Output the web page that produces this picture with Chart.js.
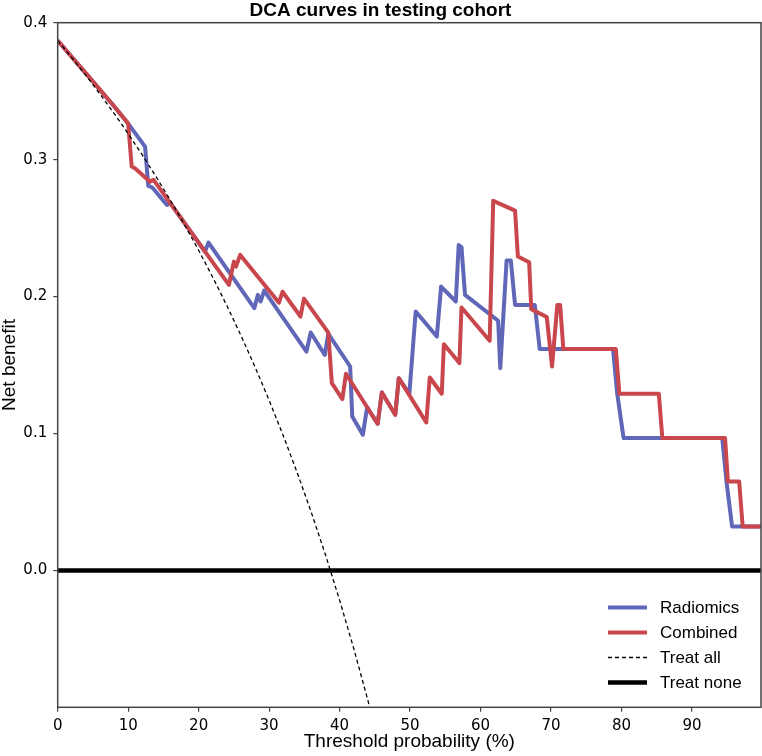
<!DOCTYPE html>
<html>
<head>
<meta charset="utf-8">
<script src="https://cdn.jsdelivr.net/npm/chart.js@4.4.0/dist/chart.umd.min.js"></script>
<style>
  html, body { margin: 0; padding: 0; background: #fff; }
  #wrap { width: 762px; height: 756px; }
</style>
</head>
<body>
<div id="wrap"><canvas id="dca" width="762" height="756"></canvas></div>
<script>
// values
const xTicks = [0, 10, 20, 30, 40, 50, 60, 70, 80, 90];
const yTicks = [0, 0.1, 0.2, 0.3, 0.4];

const radX = [0, 2, 4, 6, 8, 10, 12.4, 12.85, 13.4, 15.5, 16.0, 20.9, 21.4, 27.9, 28.4, 28.8, 29.3,
  35.3, 35.9, 37.9, 38.4, 41.5, 41.8, 43.3, 43.9, 45.4, 46.0, 47.9, 48.4, 49.9, 50.8, 53.8, 54.4,
  56.5, 56.9, 57.3, 57.8, 62.5, 62.8, 63.7, 64.3, 64.9, 67.7, 68.4, 78.8, 79.4, 80.3, 94.3, 94.9, 95.7, 99.8];
const radY = [0.387, 0.375, 0.363, 0.351, 0.339, 0.3263, 0.3095, 0.2808, 0.2798, 0.2669, 0.268, 0.2329, 0.2394,
  0.1915, 0.2012, 0.1964, 0.2044, 0.1598, 0.1737, 0.1574, 0.1728, 0.1489, 0.1124, 0.099, 0.119,
  0.1071, 0.1299, 0.1136, 0.1404, 0.129, 0.1891, 0.1708, 0.2073, 0.1964, 0.2377, 0.236, 0.2012,
  0.1823, 0.1477, 0.2263, 0.2263, 0.1939, 0.1939, 0.1616, 0.1616, 0.129, 0.0966, 0.0966, 0.065, 0.0321, 0.0321];

const combX = [0, 2, 4, 6, 8, 10, 10.5, 11.0, 13.1, 13.6, 24.3, 25.0, 25.3, 25.9, 31.4, 31.9, 34.45, 34.95,
  38.4, 38.9, 40.4, 40.9, 45.4, 46.0, 47.9, 48.4, 52.3, 52.8, 54.5, 54.8, 57.0, 57.3, 61.3, 61.8,
  64.9, 65.3, 66.9, 67.2, 69.4, 70.15, 70.9, 71.3, 71.75, 79.2, 79.7, 85.3, 85.8, 94.7, 95.1, 96.7, 97.2, 99.8];
const combY = [0.387, 0.375, 0.363, 0.351, 0.339, 0.3263, 0.2949, 0.2935, 0.2839, 0.2852, 0.2085, 0.2255,
  0.2219, 0.2304, 0.1955, 0.2035, 0.1854, 0.1985, 0.1737, 0.1368, 0.1251, 0.1436, 0.1071, 0.1299,
  0.1136, 0.1404, 0.108, 0.1409, 0.129, 0.1652, 0.1514, 0.192, 0.1677, 0.2699, 0.2628, 0.2292,
  0.2251, 0.1908, 0.185, 0.1489, 0.1939, 0.1939, 0.1616, 0.1616, 0.129, 0.129, 0.0966, 0.0966,
  0.065, 0.065, 0.0321, 0.0321];

const treatAllX = [0, 2, 4, 6, 8, 10, 12, 14, 16, 18, 20, 22, 24, 26, 28, 30, 32, 34, 36, 38, 40, 42, 44, 46];
const treatAllY = [0.387, 0.3745, 0.3615, 0.3479, 0.3337, 0.3189, 0.3034, 0.2872, 0.2702, 0.2524, 0.2338,
  0.2141, 0.1934, 0.1716, 0.1486, 0.1243, 0.0985, 0.0712, 0.0422, 0.0113, -0.0217, -0.0569, -0.0946, -0.1352];

const treatNoneX = [0, 99.8];
const treatNoneY = [0, 0];

const pts = (xs, ys) => xs.map((x, i) => ({ x: x, y: ys[i] }));

const AXIS_COLOR = '#444';

// frame round the plot and the legend in the lower right corner
const frameAndLegend = {
  id: 'frameAndLegend',
  afterDraw(chart) {
    const { ctx, chartArea: a } = chart;
    ctx.save();
    ctx.strokeStyle = AXIS_COLOR;
    ctx.lineWidth = 1.5;
    ctx.strokeRect(a.left, a.top, a.right - a.left, a.bottom - a.top);

    const x0 = 608, x1 = 647, tx = 660;
    let y = 607.5;
    ctx.font = '17px "Liberation Sans", Arial, sans-serif';
    ctx.textBaseline = 'middle';
    chart.data.datasets.forEach(ds => {
      ctx.beginPath();
      ctx.setLineDash(ds.borderDash || []);
      ctx.strokeStyle = ds.borderColor;
      ctx.lineWidth = ds.borderWidth;
      ctx.moveTo(x0, y);
      ctx.lineTo(x1, y);
      ctx.stroke();
      ctx.setLineDash([]);
      ctx.fillStyle = '#000';
      ctx.fillText(ds.label, tx, y + 1);
      y += 25;
    });
    ctx.restore();
  }
};

new Chart(document.getElementById('dca'), {
  type: 'line',
  data: {
    datasets: [
      { label: 'Radiomics', data: pts(radX, radY), borderColor: '#6067b8', borderWidth: 4, order: 4 },
      { label: 'Combined', data: pts(combX, combY), borderColor: '#c9464d', borderWidth: 4, order: 3 },
      { label: 'Treat all', data: pts(treatAllX, treatAllY), borderColor: '#000', borderWidth: 1.3,
        borderDash: [4, 3], order: 2 },
      { label: 'Treat none', data: pts(treatNoneX, treatNoneY), borderColor: '#000', borderWidth: 4.5, order: 1 }
    ]
  },
  options: {
    responsive: false,
    animation: false,
    devicePixelRatio: 1,
    layout: { padding: { left: 0, right: 1, top: 0, bottom: 0 } },
    elements: {
      point: { radius: 0 },
      line: { tension: 0, fill: false, borderJoinStyle: 'round', borderCapStyle: 'butt' }
    },
    plugins: {
      legend: { display: false },
      tooltip: { enabled: false },
      title: {
        display: true,
        text: 'DCA curves in testing cohort',
        color: '#000',
        font: { family: '"Liberation Sans", Arial, sans-serif', size: 19, weight: 'bold', lineHeight: 1.1 },
        padding: { top: 0, bottom: 1.8 }
      }
    },
    scales: {
      x: {
        type: 'linear',
        min: 0,
        max: 99.8,
        afterBuildTicks: s => { s.ticks = xTicks.map(v => ({ value: v })); },
        afterFit: s => { s.height = 48.7; },
        border: { display: false },
        grid: { drawOnChartArea: false, drawTicks: true, tickLength: 4.5, color: AXIS_COLOR, lineWidth: 1.2 },
        ticks: {
          color: '#000',
          padding: 5.5,
          maxRotation: 0,
          font: { family: '"DejaVu Sans", sans-serif', size: 15 },
          callback: v => String(v)
        },
        title: {
          display: true,
          text: 'Threshold probability (%)',
          color: '#000',
          font: { family: '"Liberation Sans", Arial, sans-serif', size: 19, lineHeight: 1.2 },
          padding: { top: 0, bottom: 3 }
        }
      },
      y: {
        type: 'linear',
        min: -0.1,
        max: 0.4,
        afterBuildTicks: s => { s.ticks = yTicks.map(v => ({ value: v })); },
        afterFit: s => { s.width = 57.7; },
        border: { display: false },
        grid: { drawOnChartArea: false, drawTicks: true, tickLength: 4.5, color: AXIS_COLOR, lineWidth: 1.2 },
        ticks: {
          color: '#000',
          padding: 6,
          font: { family: '"DejaVu Sans", sans-serif', size: 15 },
          callback: v => Number(v).toFixed(1)
        },
        title: {
          display: true,
          text: 'Net benefit',
          color: '#000',
          font: { family: '"Liberation Sans", Arial, sans-serif', size: 19, lineHeight: 1 },
          padding: { top: 0, bottom: 0 }
        }
      }
    }
  },
  plugins: [frameAndLegend]
});
</script>
</body>
</html>
